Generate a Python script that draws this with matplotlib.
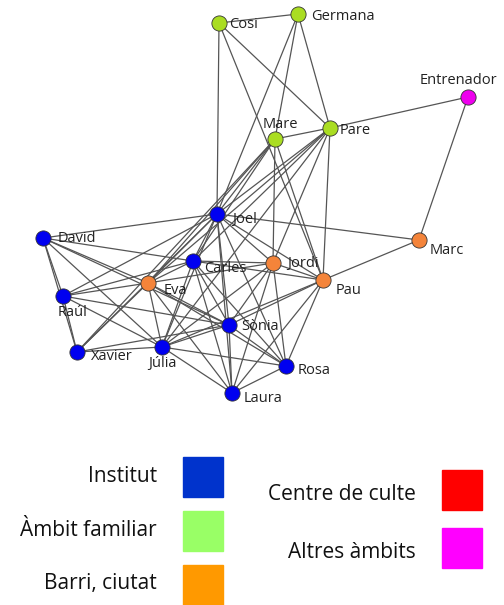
import matplotlib
matplotlib.use("Agg")
import matplotlib.pyplot as plt
from matplotlib.patches import Rectangle

# nodes: name, group, layout position (pixel-like units)
names = ["Cosi", "Germana", "Entrenador", "Mare", "Pare", "Joel", "David", "Marc",
         "Carles", "Jordi", "Pau", "Eva", "Raúl", "Sònia", "Xavier", "Júlia",
         "Rosa", "Laura"]
groups = ["fam", "fam", "altres", "fam", "fam", "inst", "inst", "barri",
          "inst", "barri", "barri", "barri", "inst", "inst", "inst", "inst",
          "inst", "inst"]
pos_x = [219, 298, 468, 275, 330, 217, 43, 419, 193, 273, 323, 148, 63, 229, 77, 162, 286, 232]
pos_y = [23, 14, 97, 139, 128, 214, 238, 240, 261, 263, 280, 283, 296, 325, 352, 347, 366, 393]

edges = [
    ("Cosi", "Germana"), ("Cosi", "Joel"), ("Cosi", "Pare"), ("Cosi", "Pau"),
    ("Germana", "Pare"), ("Germana", "Mare"), ("Germana", "Joel"),
    ("Entrenador", "Pare"), ("Entrenador", "Marc"),
    ("Mare", "Pare"), ("Mare", "Joel"), ("Mare", "Carles"), ("Mare", "Eva"),
    ("Mare", "Xavier"), ("Mare", "Jordi"), ("Mare", "Pau"),
    ("Pare", "Joel"), ("Pare", "Carles"), ("Pare", "Eva"), ("Pare", "Jordi"),
    ("Pare", "Pau"), ("Pare", "Júlia"),
    ("Joel", "David"), ("Joel", "Marc"), ("Joel", "Carles"), ("Joel", "Eva"),
    ("Joel", "Raúl"), ("Joel", "Xavier"), ("Joel", "Júlia"), ("Joel", "Sònia"),
    ("Joel", "Laura"), ("Joel", "Rosa"), ("Joel", "Jordi"), ("Joel", "Pau"),
    ("David", "Raúl"), ("David", "Xavier"), ("David", "Carles"), ("David", "Eva"),
    ("David", "Sònia"), ("David", "Júlia"),
    ("Marc", "Pau"),
    ("Carles", "Jordi"), ("Carles", "Pau"), ("Carles", "Eva"), ("Carles", "Raúl"),
    ("Carles", "Júlia"), ("Carles", "Sònia"), ("Carles", "Laura"), ("Carles", "Rosa"),
    ("Jordi", "Pau"), ("Jordi", "Sònia"), ("Jordi", "Júlia"), ("Jordi", "Laura"),
    ("Jordi", "Rosa"), ("Jordi", "Eva"),
    ("Pau", "Sònia"), ("Pau", "Júlia"), ("Pau", "Rosa"), ("Pau", "Laura"),
    ("Eva", "Raúl"), ("Eva", "Xavier"), ("Eva", "Júlia"), ("Eva", "Sònia"),
    ("Eva", "Laura"), ("Eva", "Rosa"),
    ("Raúl", "Xavier"), ("Raúl", "Sònia"), ("Raúl", "Júlia"),
    ("Xavier", "Júlia"), ("Xavier", "Sònia"),
    ("Júlia", "Sònia"), ("Júlia", "Rosa"), ("Júlia", "Laura"),
    ("Sònia", "Rosa"), ("Sònia", "Laura"), ("Rosa", "Laura"),
]

# legend
legend_labels = ["Institut", "Àmbit familiar", "Barri, ciutat", "Centre de culte", "Altres àmbits"]
legend_colors = ["#0033cc", "#99ff66", "#ff9900", "#ff0000", "#ff00ff"]

node_colors = {"inst": "#0000f0", "fam": "#aadd22", "barri": "#f4843a", "altres": "#ee00ee"}

# label offsets: dx, dy, ha, va
label_pos = {
    "Cosi": (10, 2, "left", "center"), "Germana": (13, 3, "left", "center"),
    "Entrenador": (-10, -17, "center", "center"), "Mare": (5, -15, "center", "center"),
    "Pare": (10, 3, "left", "center"), "Joel": (15, 6, "left", "center"),
    "David": (15, 0, "left", "center"), "Marc": (11, 10, "left", "center"),
    "Carles": (11, 8, "left", "center"), "Jordi": (14, 0, "left", "center"),
    "Pau": (13, 10, "left", "center"), "Eva": (16, 7, "left", "center"),
    "Raúl": (-5, 16, "left", "center"), "Sònia": (12, 2, "left", "center"),
    "Xavier": (14, 4, "left", "center"), "Júlia": (-14, 16, "left", "center"),
    "Rosa": (12, 4, "left", "center"), "Laura": (12, 5, "left", "center"),
}

fig = plt.figure(figsize=(5.04, 6.05), dpi=100)
ax = fig.add_axes([0, 0, 1, 1])
ax.set_xlim(0, 504)
ax.set_ylim(605, 0)
ax.axis("off")

idx = {n: i for i, n in enumerate(names)}
for a, b in edges:
    i, j = idx[a], idx[b]
    ax.plot([pos_x[i], pos_x[j]], [pos_y[i], pos_y[j]], color="#555555", lw=0.9, zorder=1)

for i, n in enumerate(names):
    ax.scatter(pos_x[i], pos_y[i], s=120, color=node_colors[groups[i]],
               edgecolors="#333333", linewidths=0.6, zorder=3)
    dx, dy, ha, va = label_pos[n]
    ax.text(pos_x[i] + dx, pos_y[i] + dy, n, fontsize=10.5, family="Open Sans",
            color="#222222", ha=ha, va=va, zorder=4)

# legend boxes, laid out by hand like the original picture
left_rows = [477, 531, 585]
for k in range(3):
    ax.add_patch(Rectangle((183, left_rows[k] - 20), 40, 40, color=legend_colors[k]))
    ax.text(157, left_rows[k] - 1, legend_labels[k], fontsize=15, family="Open Sans",
            ha="right", va="center", color="#111111")
right_rows = [490, 548]
for k in range(2):
    ax.add_patch(Rectangle((442, right_rows[k] - 20), 40, 40, color=legend_colors[k + 3]))
    ax.text(416, right_rows[k] + 5, legend_labels[k + 3], fontsize=15, family="Open Sans",
            ha="right", va="center", color="#111111")

fig.savefig("out.png", dpi=100)
